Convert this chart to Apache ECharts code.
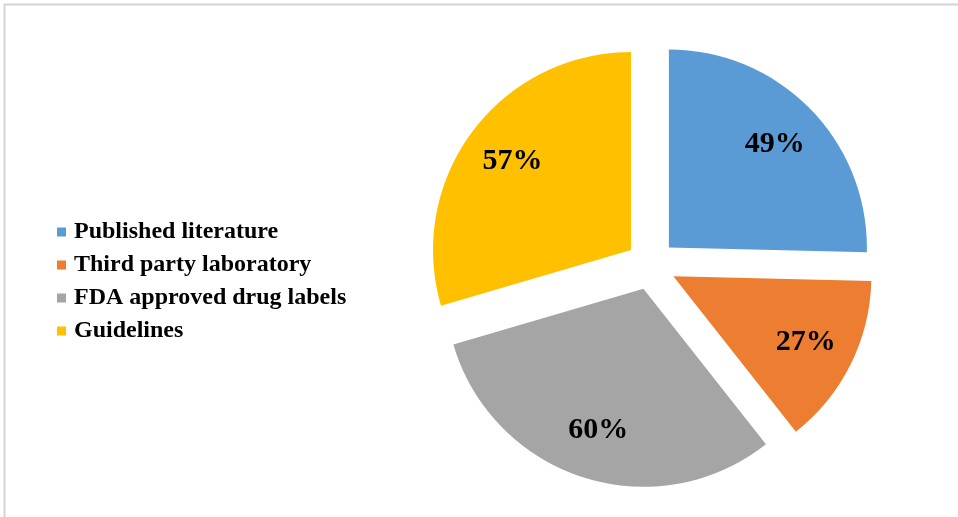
<!DOCTYPE html>
<html>
<head>
<meta charset="utf-8">
<script src="https://cdn.jsdelivr.net/npm/echarts@6/dist/echarts.min.js"></script>
<style>
html,body{margin:0;padding:0;background:#fff;}
#chart{width:958px;height:517px;}
</style>
</head>
<body>
<div id="chart"></div>
<script>
var categories = ['Published literature', 'Third party laboratory', 'FDA approved drug labels', 'Guidelines'];
var values = [49, 27, 60, 57];
var colors = ['#5B9BD5', '#ED7D31', '#A5A5A5', '#FFC000'];

var chart = echarts.init(document.getElementById('chart'));

function buildData(transparent) {
  return categories.map(function (name, i) {
    return {
      name: name,
      value: values[i],
      selected: true,
      itemStyle: { color: transparent ? 'rgba(0,0,0,0)' : colors[i] }
    };
  });
}

var serifFont = '"Liberation Serif", "Times New Roman", serif';

chart.setOption({
  animation: false,
  color: colors,
  legend: {
    orient: 'vertical',
    left: 52,
    top: 215,
    itemWidth: 9,
    itemHeight: 9,
    itemGap: 9,
    icon: 'rect',
    selectedMode: false,
    data: categories,
    textStyle: {
      fontFamily: serifFont,
      fontWeight: 'bold',
      fontSize: 24,
      color: '#000',
      padding: [0, 0, 0, 3]
    }
  },
  graphic: [{
    type: 'polyline',
    shape: { points: [[4.5, 517], [4.5, 4.5], [958, 4.5]] },
    style: { stroke: '#d4d4d4', lineWidth: 2, fill: null },
    silent: true
  }],
  series: [{
    type: 'pie',
    center: [651, 265],
    radius: [0, 198],
    startAngle: 90,
    clockwise: true,
    selectedMode: 'multiple',
    selectedOffset: 25,
    silent: true,
    label: { show: false },
    labelLine: { show: false },
    emphasis: { disabled: true },
    data: buildData(false)
  }, {
    type: 'pie',
    center: [651, 265],
    radius: [92, 198],
    startAngle: 90,
    clockwise: true,
    selectedMode: 'multiple',
    selectedOffset: 25,
    silent: true,
    legendHoverLink: false,
    emphasis: { disabled: true },
    label: {
      show: true,
      position: 'inside',
      formatter: '{c}%',
      fontFamily: serifFont,
      fontWeight: 'bold',
      fontSize: 30,
      color: '#000'
    },
    labelLine: { show: false },
    data: buildData(true)
  }]
});
</script>
</body>
</html>
